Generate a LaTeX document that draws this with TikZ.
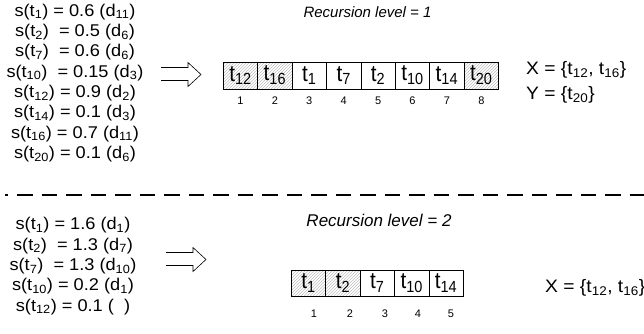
\documentclass[tikz,border=0pt]{standalone}
\usepackage{fontspec}
\setmainfont{Liberation Sans}
\newfontfamily\widefont{Liberation Sans}[FakeStretch=1.07]
\newfontfamily\cellfont{Liberation Sans}[FakeStretch=0.9]
\usetikzlibrary{patterns,calc}

\newcommand\lo[1]{\textsubscript{#1}}

\tikzset{
  cell/.style={draw, line width=0.6pt, minimum width=34.4pt, minimum height=27pt,
    inner sep=0pt, anchor=west, font=\cellfont\fontsize{23}{24}\selectfont},
  hatched/.style={pattern=north east lines, pattern color=gray!50},
  plain/.style={},
  idx/.style={font=\fontsize{11}{12}\selectfont},
  eqns/.style={align=center, inner sep=0pt, font=\widefont\fontsize{17}{20.3}\selectfont},
  level/.style={font=\itshape\fontsize{15}{17}\selectfont},
  setlbl/.style={anchor=west, inner sep=0pt, font=\widefont\fontsize{18}{20}\selectfont},
  hollowarrow/.style={line width=0.6pt, line join=miter},
  divider/.style={line width=1.8pt, dash pattern=on 15.5pt off 9pt, dash phase=12.4pt}
}

\begin{document}
\begin{tikzpicture}[x=1pt, y=-1pt]
  \clip (0,0) rectangle (644,333);
  \useasboundingbox (0,0) rectangle (644,333);

  % ---------- level 1 ----------
  \node[eqns] (list1) at (75,83) {%
    s(t\lo{1}) = 0.6 (d\lo{11})\\
    s(t\lo{2})\ \ = 0.5 (d\lo{6})\\
    s(t\lo{7})\ \ = 0.6 (d\lo{6})\\
    s(t\lo{10})\ \ = 0.15 (d\lo{3})\\
    s(t\lo{12}) = 0.9 (d\lo{2})\\
    s(t\lo{14}) = 0.1 (d\lo{3})\\
    s(t\lo{16}) = 0.7 (d\lo{11})\\
    s(t\lo{20}) = 0.1 (d\lo{6})};

  \draw[hollowarrow] (161,67.5) -- (188,67.5) -- (188,62.5) -- (201,74.5)
    -- (188,86.5) -- (188,80.5) -- (161,80.5);

  \node[level] (lvl1) at (367.5,12) {Recursion level = 1};

  \foreach \t/\s [count=\i] in {12/hatched,16/hatched,1/plain,7/plain,2/plain,10/plain,14/plain,20/hatched} {
    \node[cell, \s] (a\i) at ({223+34.4*(\i-1)},75.5) {t\lo{\t}};
    \node[idx] (ai\i) at ($(a\i.center)+(0,25)$) {\i};
  }

  \node[setlbl] (xset1) at (526,70) {X = \{t\lo{12}, t\lo{16}\}};
  \node[setlbl] (yset1) at (526,95) {Y = \{t\lo{20}\}};

  % ---------- separator ----------
  \coordinate (sepL) at (5,195);
  \coordinate (sepR) at (650,195);
  \draw[divider] (sepL) -- (sepR);

  % ---------- level 2 ----------
  \node[eqns] (list2) at (73,266) {%
    s(t\lo{1}) = 1.6 (d\lo{1})\\
    s(t\lo{2})\ \ = 1.3 (d\lo{7})\\
    s(t\lo{7})\ \ = 1.3 (d\lo{10})\\
    s(t\lo{10}) = 0.2 (d\lo{1})\\
    s(t\lo{12}) = 0.1 (\ \ )};

  \draw[hollowarrow] (166,252.5) -- (193,252.5) -- (193,247.5) -- (206,259.5)
    -- (193,271.5) -- (193,265.5) -- (166,265.5);

  \node[level, font=\itshape\fontsize{17}{19}\selectfont] (lvl2) at (379,220) {Recursion level = 2};

  \foreach \t/\s [count=\i] in {1/hatched,2/hatched,7/plain,10/plain,14/plain} {
    \node[cell, \s, minimum height=26pt] (b\i) at ({291+34.4*(\i-1)},283) {t\lo{\t}};
  }
  \foreach \x [count=\i] in {314,350,385,418,451} {
    \node[idx] (bi\i) at (\x,314) {\i};
  }

  \node[setlbl] (xset2) at (545,288) {X = \{t\lo{12}, t\lo{16}\}};
\end{tikzpicture}
\end{document}
